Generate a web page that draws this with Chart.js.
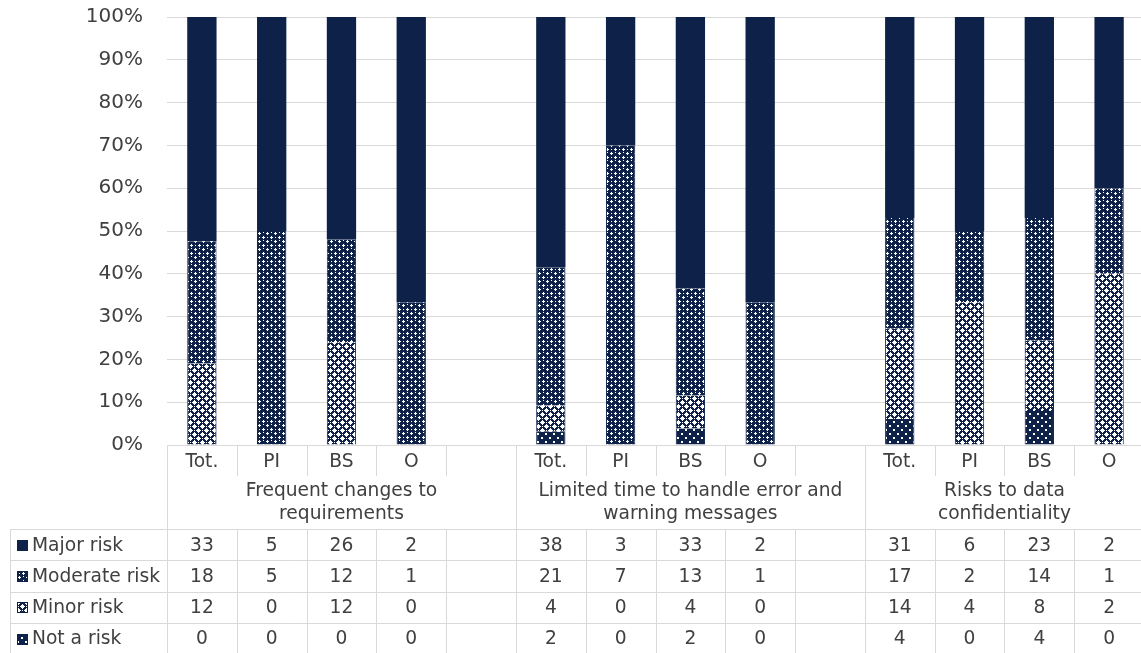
<!DOCTYPE html>
<html><head><meta charset="utf-8">
<script src="https://cdn.jsdelivr.net/npm/chart.js@4/dist/chart.umd.min.js"></script>
<style>
html,body{margin:0;padding:0;overflow:hidden;background:#fff;width:1141px;height:653px}
#c{position:absolute;left:0;top:0}
</style></head>
<body><canvas id="c" width="1146" height="653"></canvas>
<script>
// ---- data ----
const categories = ["Tot.","PI","BS","O","","Tot.","PI","BS","O","","Tot.","PI","BS","O"];
const groupTitles = [
  ["Frequent changes to","requirements"],
  ["Limited time to handle error and","warning messages"],
  ["Risks to data","confidentiality"]
];
const seriesNames = ["Not a risk","Minor risk","Moderate risk","Major risk"];
const notRisk      = [0,0,0,0,null, 2,0,2,0,null, 4,0,4,0];
const minorRisk    = [12,0,12,0,null, 4,0,4,0,null, 14,4,8,2];
const moderateRisk = [18,5,12,1,null, 21,7,13,1,null, 17,2,14,1];
const majorRisk    = [33,5,26,2,null, 38,3,33,2,null, 31,6,23,2];
const yTickLabels  = ["0%","10%","20%","30%","40%","50%","60%","70%","80%","90%","100%"];

const NAVY = "#0E2148";
const TEXT = "#404040";
const GRID = "#D9D9D9";
const FONT = "'DejaVu Sans', Verdana, sans-serif";
const FS = 18.67;

// column totals -> shares (100% stacked)
const counts = [notRisk, minorRisk, moderateRisk, majorRisk];
const totals = categories.map((_, i) => counts.reduce((s, arr) => s + (arr[i] || 0), 0));
const share = arr => arr.map((v, i) => (v === null || !totals[i]) ? null : v / totals[i] * 100);

// ---- patterns ----
function makePattern(rows, fg, bg) {
  const c = document.createElement('canvas');
  c.width = rows[0].length; c.height = rows.length;
  const g = c.getContext('2d');
  g.fillStyle = bg; g.fillRect(0, 0, c.width, c.height);
  g.fillStyle = fg;
  rows.forEach((r, y) => { for (let x = 0; x < r.length; x++) if (r[x] === '1') g.fillRect(x, y, 1, 1); });
  return g.createPattern(c, 'repeat');
}
const patNot = makePattern([
  "00000000",
  "01100000",
  "01100000",
  "00000000",
  "00000000",
  "00000110",
  "00000110",
  "00000000"], "#ffffff", NAVY);
const patMinor = makePattern([
  "00100010",
  "01110000",
  "11111010",
  "01110000",
  "00100010",
  "00000111",
  "10101111",
  "00000111"], "#ffffff", NAVY);
const patModerate = makePattern([
  "00010001",
  "00111000",
  "00010000",
  "00000000",
  "00000001",
  "10010011",
  "00000001",
  "00000000"], "#ffffff", NAVY);
const patterns = [patNot, patMinor, patModerate, NAVY];

const datasets = counts.map((arr, k) => ({
  label: seriesNames[k],
  data: share(arr),
  backgroundColor: patterns[k],
  borderColor: NAVY,
  borderWidth: k === 3 ? 0 : {left: 1, right: 1, top: 0, bottom: 0},
  borderSkipped: false,
  barPercentage: 0.42,
  categoryPercentage: 1.0
}));

// ---- data table plugin ----
const tablePlugin = {
  id: 'dataTable',
  afterDraw(chart) {
    const ctx = chart.ctx, a = chart.chartArea, xs = chart.scales.x;
    const n = categories.length;
    const w = (a.right - a.left) / n;
    const bx = i => Math.round(a.left + i * w) + 0.5;
    const axisY = Math.round(a.bottom) + 0.5;
    const catBottom = 476;
    const tableTop = 529;
    const rowH = 31.3;
    const tableBottom = 660;
    const legLeft = 10.5;
    ctx.save();
    ctx.strokeStyle = GRID; ctx.lineWidth = 1;
    ctx.beginPath();
    ctx.moveTo(a.left, axisY); ctx.lineTo(a.right, axisY);
    for (let k = 0; k <= n; k++) {
      const x = bx(k);
      const isGroup = (k % 5 === 0) || k === n;
      ctx.moveTo(x, axisY);
      ctx.lineTo(x, isGroup ? tableBottom : catBottom);
      if (!isGroup) { ctx.moveTo(x, tableTop); ctx.lineTo(x, tableBottom); }
    }
    for (let r = 0; r < 5; r++) {
      const y = Math.round(tableTop + r * rowH) + 0.5;
      ctx.moveTo(legLeft, y); ctx.lineTo(a.right, y);
    }
    ctx.moveTo(legLeft, Math.round(tableTop) + 0.5); ctx.lineTo(legLeft, tableBottom);
    ctx.stroke();

    ctx.fillStyle = TEXT;
    ctx.font = FS + "px " + FONT;
    ctx.textAlign = 'center'; ctx.textBaseline = 'middle';
    categories.forEach((c, i) => { if (c) ctx.fillText(c, xs.getPixelForValue(i), 462); });
    groupTitles.forEach((t, g) => {
      const start = g * 5, end = Math.min(g * 5 + 5, n);
      const cx = a.left + (start + end) / 2 * w;
      ctx.fillText(t[0], cx, 491);
      ctx.fillText(t[1], cx, 514);
    });
    const order = [3, 2, 1, 0];
    order.forEach((k, r) => {
      const cy = tableTop + r * rowH + rowH / 2 + 1;
      ctx.fillStyle = patterns[k];
      ctx.fillRect(17, Math.round(cy - 6), 11, 11);
      ctx.strokeStyle = NAVY; ctx.lineWidth = 1;
      ctx.strokeRect(17.5, Math.round(cy - 6) + 0.5, 10, 10);
      ctx.fillStyle = TEXT;
      ctx.textAlign = 'left';
      ctx.fillText(seriesNames[k], 32, cy);
      ctx.textAlign = 'center';
      counts[k].forEach((v, i) => { if (v !== null) ctx.fillText(String(v), xs.getPixelForValue(i), cy); });
    });
    ctx.restore();
  }
};

new Chart(document.getElementById('c'), {
  type: 'bar',
  data: { labels: categories, datasets },
  options: {
    responsive: false,
    animation: false,
    events: [],
    layout: { padding: { top: 17, bottom: 208, left: 0, right: 2 } },
    plugins: { legend: { display: false }, tooltip: { enabled: false } },
    scales: {
      x: { stacked: true, display: false, offset: true, grid: { display: false } },
      y: {
        stacked: true, min: 0, max: 100,
        afterFit: s => { s.width = 167; s.paddingTop = 0; s.paddingBottom = 0; },
        border: { display: false },
        grid: { color: GRID, lineWidth: 1, drawTicks: false },
        ticks: {
          stepSize: 10, padding: 24, color: TEXT,
          font: { family: FONT, size: 20 },
          callback: (v) => yTickLabels[Math.round(v / 10)]
        }
      }
    }
  },
  plugins: [tablePlugin]
});
</script>
</body></html>
